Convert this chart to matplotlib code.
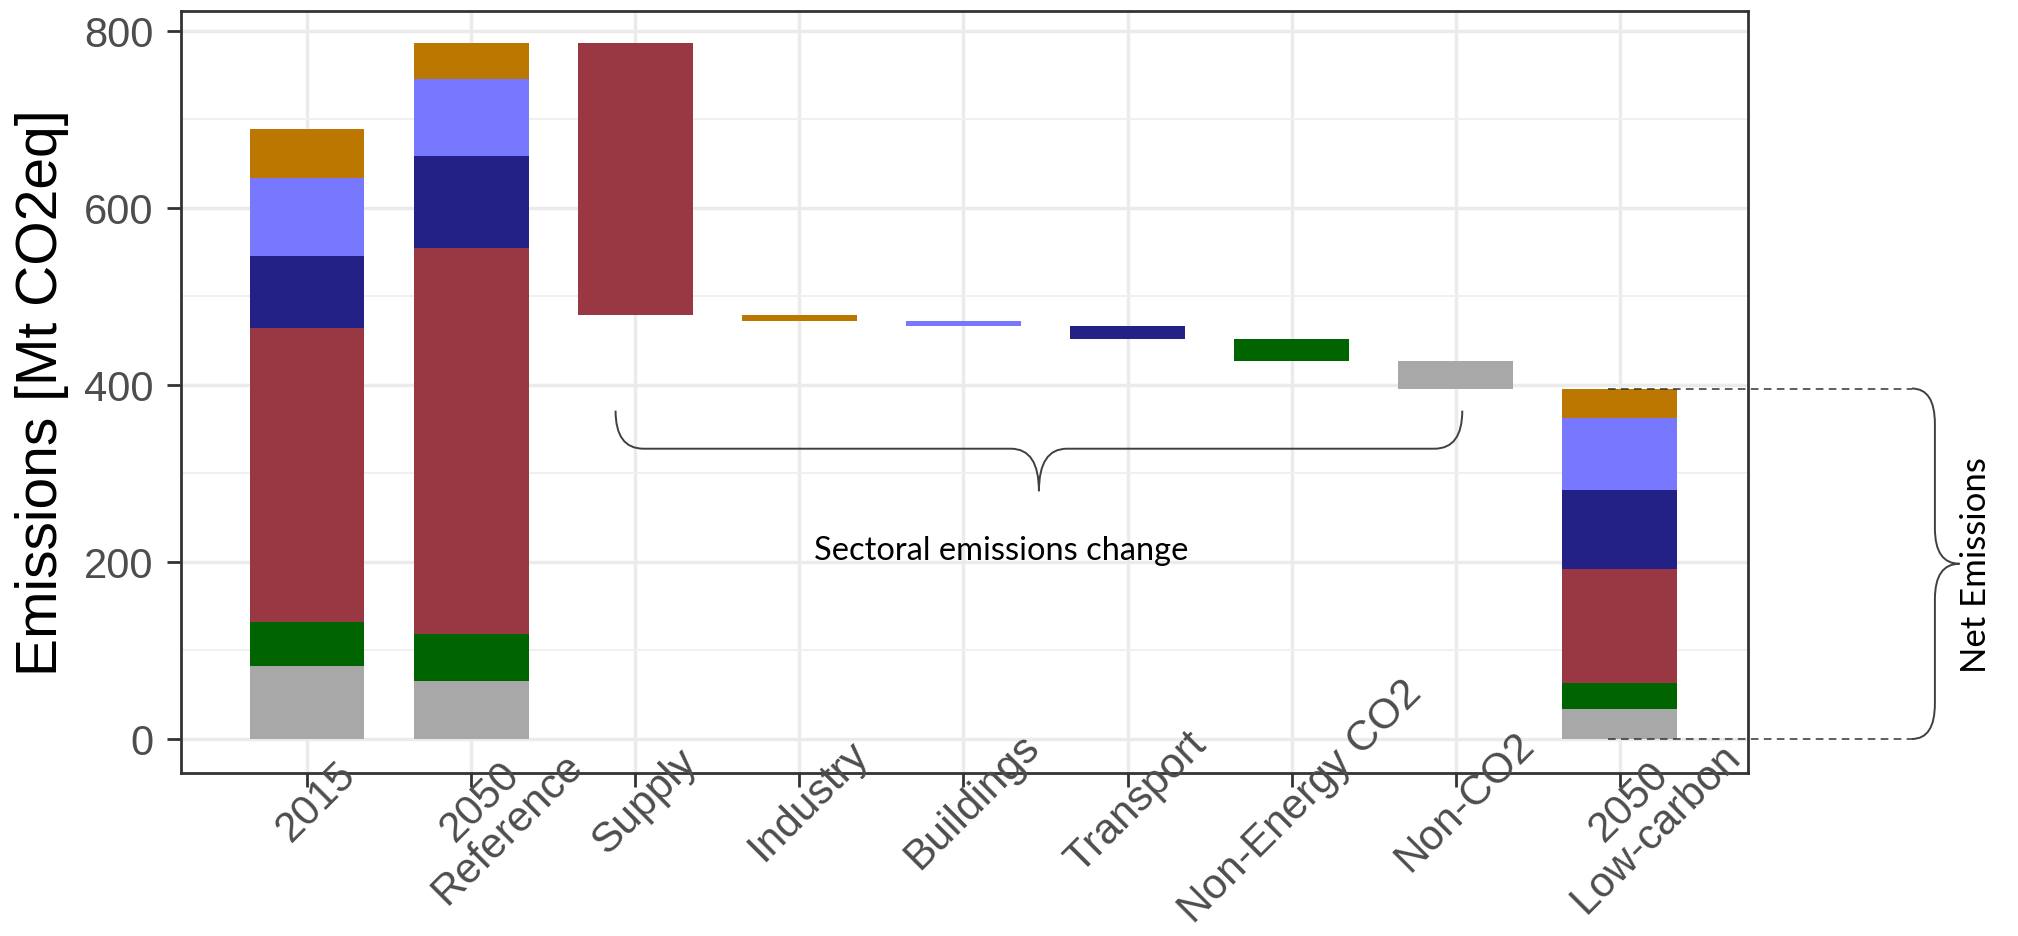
import matplotlib
matplotlib.use("Agg")
import matplotlib.pyplot as plt
from matplotlib.path import Path
from matplotlib.patches import PathPatch

# stack order, bottom to top
sectors = ["Non-CO2", "Non-Energy CO2", "Supply", "Transport", "Buildings", "Industry"]
colors = ["#a8a8a8", "#006400", "#993843", "#232185", "#7878ff", "#bb7700"]

em_2015 = [82, 50, 332, 82, 88, 55]
em_2050_ref = [65, 54, 436, 104, 87, 40]
em_2050_low = [34, 29, 129, 89, 82, 33]

# order of the waterfall steps
steps = ["Supply", "Industry", "Buildings", "Transport", "Non-Energy CO2", "Non-CO2"]

tick_labels = ["2015", "2050\nReference", "Supply", "Industry", "Buildings",
               "Transport", "Non-Energy CO2", "Non-CO2", "2050\nLow-carbon"]

fig = plt.figure(figsize=(20.18, 9.37), dpi=100)
ax = fig.add_axes([0.0897, 0.174, 0.7765, 0.8132])

bw = 0.7


def stacked(x, vals):
    bottom = 0
    for v, c in zip(vals, colors):
        ax.bar(x, v, width=bw, bottom=bottom, color=c, linewidth=0, zorder=2)
        bottom += v
    return bottom


stacked(1, em_2015)
level = stacked(2, em_2050_ref)

# waterfall of sector reductions
for i, s in enumerate(steps):
    k = sectors.index(s)
    change = em_2050_ref[k] - em_2050_low[k]
    ax.bar(3 + i, change, width=bw, bottom=level - change, color=colors[k],
           linewidth=0, zorder=2)
    level -= change

net = stacked(9, em_2050_low)

ax.set_xlim(0.232, 9.781)
ax.set_ylim(-38.4, 822.6)

ax.set_xticks(range(1, 10))
ax.set_xticklabels([])
ax.set_yticks([0, 200, 400, 600, 800])
ax.set_yticks([100, 300, 500, 700], minor=True)
ax.set_yticklabels(["0", "200", "400", "600", "800"], family="Liberation Sans",
                   fontsize=30, color="#4d4d4d")
ax.tick_params(axis="both", which="major", length=10, width=2, color="#333333", pad=10)
ax.tick_params(axis="y", which="minor", length=0)

ax.grid(True, which="major", color="#ebebeb", linewidth=2.5, zorder=0)
ax.grid(True, which="minor", axis="y", color="#f0f0f0", linewidth=1.4, zorder=0)
ax.set_axisbelow(True)
for sp in ax.spines.values():
    sp.set_color("#333333")
    sp.set_linewidth(2)

for i, lab in enumerate(tick_labels):
    ax.text(1 + i - 0.03, -0.018, lab, transform=ax.get_xaxis_transform(),
            rotation=45, rotation_mode="anchor", ha="center", va="top",
            multialignment="center", linespacing=0.95,
            family="Liberation Sans", fontsize=30.5, color="#4d4d4d")

ax.text(-0.0887, 0.5, "Emissions [Mt CO2eq]", transform=ax.transAxes,
        rotation=90, ha="center", va="center", family="Liberation Sans",
        fontsize=41, color="black")

# brace under the sector steps
x0, x1 = 3 - 0.12, 8 + 0.04
xc = (x0 + x1) / 2
yt, ym, ytip = 371, 328, 280
rx = 0.17
verts = [(x0, yt), (x0, ym), (x0 + rx, ym), (xc - rx, ym), (xc, ym), (xc, ytip),
         (xc, ym), (xc + rx, ym), (x1 - rx, ym), (x1, ym), (x1, yt)]
codes = [Path.MOVETO, Path.CURVE3, Path.CURVE3, Path.LINETO, Path.CURVE3, Path.CURVE3,
         Path.CURVE3, Path.CURVE3, Path.LINETO, Path.CURVE3, Path.CURVE3]
ax.add_patch(PathPatch(Path(verts, codes), fill=False, edgecolor="#404040",
                       linewidth=1.4, zorder=4, clip_on=False))
ax.text(5.23, 213, "Sectoral emissions change", ha="center", va="center",
        family="Lato", fontsize=23.5, color="black")

# brace for net emissions, right of the panel
xh, xv, xt = 10.78, 10.92, 11.07
ry = 40
mid = net / 2
verts = [(xh, net), (xv, net), (xv, net - ry), (xv, mid + ry), (xv, mid), (xt, mid),
         (xv, mid), (xv, mid - ry), (xv, ry), (xv, 0), (xh, 0)]
ax.add_patch(PathPatch(Path(verts, codes), fill=False, edgecolor="#404040",
                       linewidth=1.4, zorder=4, clip_on=False))
for yy in [net, 0]:
    ax.plot([8.93, xh], [yy, yy], color="#333333", linewidth=1.1,
            dashes=(5, 3.5), zorder=5, clip_on=False)
ax.text(11.17, mid, "Net Emissions", rotation=90, ha="center", va="center",
        family="Lato", fontsize=25, color="black", clip_on=False)

fig.savefig("out.png", dpi=100, facecolor="white")
